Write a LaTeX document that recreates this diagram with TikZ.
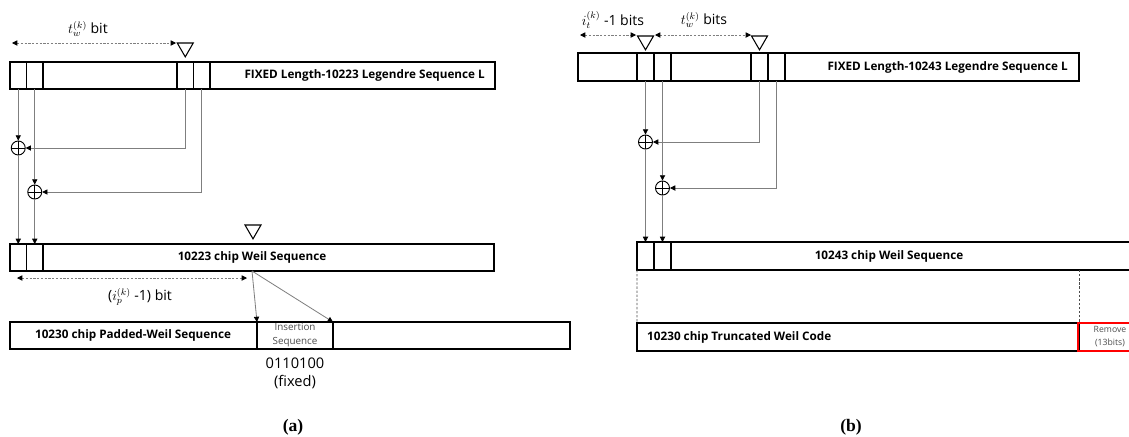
\documentclass[tikz,border=0pt]{standalone}
\usepackage{fontspec}
\setmainfont{Open Sans}
\newfontfamily\captionfont{Liberation Serif}
\usetikzlibrary{arrows.meta, shapes.geometric, calc}
\definecolor{wiregray}{HTML}{7F7F7F}
\definecolor{cutred}{HTML}{FF0000}

\begin{document}
\begin{tikzpicture}[
        x=0.03cm, y=-0.03cm,
        seqbar/.style={draw, rectangle, line width=1pt, minimum height=0.81cm, inner sep=0pt, outer sep=0pt, font=\fontsize{10}{12}\selectfont\bfseries},
        cell/.style={seqbar, minimum width=0.495cm},
        cellb/.style={seqbar, minimum width=0.51cm, minimum height=0.84cm},
        xorop/.style={draw, circle, line width=0.8pt, minimum size=0.42cm, inner sep=0pt, path picture={\draw[line width=0.8pt] (path picture bounding box.north) -- (path picture bounding box.south) (path picture bounding box.west) -- (path picture bounding box.east);}},
        marker/.style={draw, regular polygon, regular polygon sides=3, shape border rotate=180, minimum size=0.555cm, inner sep=0pt, line width=0.9pt},
        wire/.style={draw=wiregray, line width=0.7pt, -{Triangle[length=4.5pt, width=4.5pt, color=black]}},
        span/.style={draw=wiregray, dash pattern=on 2pt off 1.2pt, line width=0.7pt, {Triangle[length=4.5pt, width=4.5pt, color=black]}-{Triangle[length=4.5pt, width=4.5pt, color=black]}},
        gap/.style={draw=black!70, dash pattern=on 2pt off 1.5pt, line width=0.5pt},
        seqtext/.style={font=\fontsize{10}{12}\selectfont\bfseries, inner sep=0pt},
        note/.style={font=\fontsize{12}{17}\selectfont, inner sep=0pt, align=center},
        small/.style={font=\fontsize{8.4}{12}\selectfont, text=black!70, align=center},
        caption/.style={font=\fontsize{15}{17}\captionfont\bfseries, inner sep=0pt}
    ]
    \clip (0,0) rectangle (1129,436);
    \useasboundingbox (0,0) rectangle (1129,436);

    \node[seqbar, minimum width=14.55cm] (topA) at (252.5,75.5) {};
    \node[cell] (a1) at (18.25,75.5) {};
    \node[cell] (a2) at (34.75,75.5) {};
    \node[cell] (a3) at (185.25,75.5) {};
    \node[cell] (a4) at (201.75,75.5) {};
    \node[seqtext, anchor=east] (topAtext) at (485,75.5) {FIXED Length-10223 Legendre Sequence L};
    \node[marker] (triA) at (185.25,47.6) {};
    \coordinate (twAl) at (12,43);
    \coordinate (twAr) at (176,43);
    \draw[span] (twAl) -- (twAr);
    \node[note] (twA) at (88,29) {\(t_w^{(k)}\) bit};

    \node[xorop] (xA1) at (18.25,148) {};
    \node[xorop] (xA2) at (34.75,192) {};
    \node[seqbar, minimum width=14.52cm] (weilA) at (252,257.5) {10223 chip Weil Sequence};
    \node[cell] (w1) at (18.25,257.5) {};
    \node[cell] (w2) at (34.75,257.5) {};
    \draw[wire] (a1.south) -- (xA1.north);
    \draw[wire] (a2.south) -- (xA2.north);
    \draw[wire] (a3.south) |- (xA1.east);
    \draw[wire] (a4.south) |- (xA2.east);
    \draw[wire] (xA1.south) -- (w1.north);
    \draw[wire] (xA2.south) -- (w2.north);

    \node[marker] (triW) at (253,229.6) {};
    \coordinate (ipAl) at (17,278);
    \coordinate (ipAr) at (247,278);
    \draw[span] (ipAl) -- (ipAr);
    \node[note] (ipA) at (140,297) {(\(i_p^{(k)}\) -1) bit};

    \node[seqbar, minimum width=16.8cm] (padA) at (290,335.5) {};
    \node[seqbar, small, minimum width=2.28cm] (insA) at (295,335.5) {Insertion\\Sequence};
    \node[seqtext] (padAtext) at (133,335.5) {10230 chip Padded-Weil Sequence};
    \node[note, font=\fontsize{12.5}{15.5}\selectfont] (fixA) at (295,373) {0110100\\(fixed)};
    \draw[wire] (weilA.south) -- (insA.north west);
    \draw[wire] (weilA.south) -- (insA.north east);
    \node[caption] (capA) at (293,427) {(a)};

    \node[seqbar, minimum width=15.03cm, minimum height=0.84cm] (topB) at (828.5,67) {};
    \node[cellb] (b1) at (645.5,67) {};
    \node[cellb] (b2) at (662.5,67) {};
    \node[cellb] (b3) at (759.5,67) {};
    \node[cellb] (b4) at (776.5,67) {};
    \node[seqtext, anchor=east] (topBtext) at (1068,67) {FIXED Length-10243 Legendre Sequence L};
    \node[marker] (triB1) at (645.5,40.6) {};
    \node[marker] (triB2) at (759.5,40.6) {};
    \coordinate (itBl) at (580,35);
    \coordinate (itBr) at (636,35);
    \coordinate (twBl) at (655,35);
    \coordinate (twBr) at (751,35);
    \draw[span] (itBl) -- (itBr);
    \draw[span] (twBl) -- (twBr);
    \node[note] (itB) at (613,20) {\(i_t^{(k)}\) -1 bits};
    \node[note] (twB) at (704,20) {\(t_w^{(k)}\) bits};

    \node[xorop] (xB1) at (645.5,142) {};
    \node[xorop] (xB2) at (662.5,188) {};
    \node[seqbar, minimum width=15.12cm, minimum height=0.84cm] (weilB) at (889,256) {10243 chip Weil Sequence};
    \node[cellb] (v1) at (645.5,256) {};
    \node[cellb] (v2) at (662.5,256) {};
    \draw[wire] (b1.south) -- (xB1.north);
    \draw[wire] (b2.south) -- (xB2.north);
    \draw[wire] (b3.south) |- (xB1.east);
    \draw[wire] (b4.south) |- (xB2.east);
    \draw[wire] (xB1.south) -- (v1.north);
    \draw[wire] (xB2.south) -- (v2.north);

    \node[seqbar, minimum width=13.26cm, minimum height=0.84cm] (truncB) at (858,337) {};
    \node[seqtext, anchor=west] (truncBtext) at (647,337) {10230 chip Truncated Weil Code};
    \node[seqbar, small, font=\fontsize{7.4}{11}\selectfont, draw=cutred, line width=1.2pt, minimum width=1.92cm, minimum height=0.84cm] (remB) at (1110,337) {Remove\\(13bits)};
    \draw[gap] (weilB.south west) -- (truncB.north west);
    \draw[gap] (truncB.north east |- weilB.south) -- (truncB.north east);
    \node[caption] (capB) at (851,427) {(b)};

    \end{tikzpicture}
\end{document}
